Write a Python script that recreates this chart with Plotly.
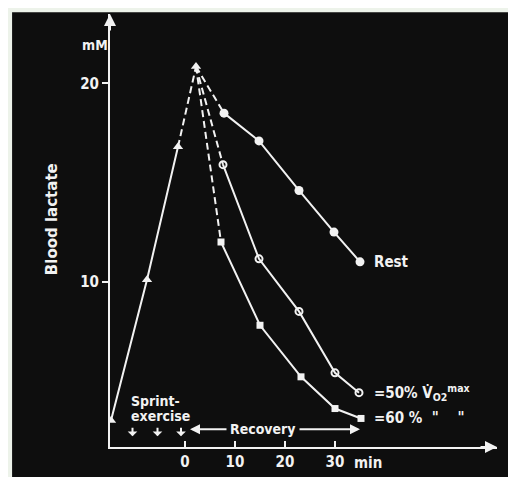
import plotly.graph_objects as go

# ---- data ----
exercise_t = [-14.8, -7.6, -1.4, 2.2]
exercise_mM = [3.0, 10.1, 16.8, 20.85]

rest_t = [7.8, 14.8, 22.8, 29.8, 35.0]
rest_mM = [18.5, 17.1, 14.6, 12.5, 11.0]

pct50_t = [7.6, 14.8, 22.8, 30.0, 34.8]
pct50_mM = [15.9, 11.15, 8.5, 5.4, 4.4]

pct60_t = [7.2, 15.0, 23.2, 30.0, 35.2]
pct60_mM = [12.0, 7.8, 5.2, 3.6, 3.1]

sprint_times = [-10.5, -5.5, -0.8]
x_ticks = [0, 10, 20, 30]
y_ticks = [10, 20]

FG = "#f2f2f2"
BG = "#0e0e0e"
FONT = "DejaVu Sans Condensed, Liberation Sans Narrow, DejaVu Sans, sans-serif"
WIDE = "DejaVu Sans, Verdana, sans-serif"

fig = go.Figure()

line = dict(color=FG, width=2)
dline = dict(color=FG, width=2, dash="7px,4px")

# sprint exercise rise
fig.add_trace(go.Scatter(x=exercise_t[:3], y=exercise_mM[:3], mode="lines+markers",
                         line=line, marker=dict(symbol="triangle-up", size=9, color=FG)))
fig.add_trace(go.Scatter(x=exercise_t[2:], y=exercise_mM[2:], mode="lines",
                         line=dline))
fig.add_trace(go.Scatter(x=exercise_t[3:], y=exercise_mM[3:], mode="markers",
                         marker=dict(symbol="triangle-up", size=9, color=FG)))

series = [
    (rest_t, rest_mM, dict(symbol="circle", size=9, color=FG)),
    (pct50_t, pct50_mM, dict(symbol="circle-open", size=7, color=FG, line=dict(width=2, color=FG))),
    (pct60_t, pct60_mM, dict(symbol="square", size=7, color=FG)),
]
for t, v, mk in series:
    fig.add_trace(go.Scatter(x=[exercise_t[-1], t[0]], y=[exercise_mM[-1], v[0]],
                             mode="lines", line=dline))
    fig.add_trace(go.Scatter(x=t, y=v, mode="lines+markers", line=line, marker=mk))

tf = dict(family=FONT, size=15, color=FG)
tf14 = dict(family=FONT, size=14, color=FG)

annotations = [
    # axis arrowheads
    dict(x=-15, y=23.5, ax=0, ay=18, showarrow=True, arrowhead=2, arrowsize=1.2,
         arrowwidth=2, arrowcolor=FG, text=""),
    dict(x=62.4, y=1.66, ax=-18, ay=0, showarrow=True, arrowhead=2, arrowsize=1.2,
         arrowwidth=2, arrowcolor=FG, text=""),
    dict(x=-0.039, y=0.929, xref="paper", yref="paper", xanchor="center", yanchor="middle",
         text="<b>mM</b>", showarrow=False, font=tf14),
    dict(x=-0.15, y=0.526, xref="paper", yref="paper", xanchor="center", yanchor="middle",
         text="<b>Blood lactate</b>", textangle=-90, showarrow=False,
         font=dict(family=WIDE, size=15, color=FG)),
    dict(x=36.6, y=-0.012, yref="paper", text="<b>min</b>", showarrow=False, font=tf,
         yanchor="top"),
    dict(x=-11.3, y=4.0, text="<b>Sprint-</b>", showarrow=False, font=tf14, xanchor="left"),
    dict(x=-11.3, y=3.2, text="<b>exercise</b>", showarrow=False, font=tf14, xanchor="left"),
    dict(x=15.6, y=2.55, text="<b>Recovery</b>", showarrow=False, font=tf14),
    dict(x=1.0, y=2.55, ax=8.6, ay=2.55, axref="x", ayref="y", showarrow=True,
         arrowhead=2, arrowwidth=2, arrowcolor=FG, text=""),
    dict(x=35.0, y=2.55, ax=22.6, ay=2.55, axref="x", ayref="y", showarrow=True,
         arrowhead=2, arrowwidth=2, arrowcolor=FG, text=""),
    dict(x=37.3, y=rest_mM[-1], text="<b>Rest</b>", xanchor="left", showarrow=False, font=tf),
    dict(x=37.3, y=pct50_mM[-1], text="<b>=50% V\u0307<sub>O2</sub><sup>max</sup></b>",
         xanchor="left", showarrow=False, font=tf),
    dict(x=37.3, y=pct60_mM[-1], text="<b>=60 %  \"    \"</b>", xanchor="left",
         showarrow=False, font=tf),
]
for s in sprint_times:
    annotations.append(dict(x=s, y=2.2, ax=0, ay=-10, showarrow=True, arrowhead=1,
                            arrowsize=0.8, arrowwidth=2, arrowcolor=FG, text=""))

shapes = [
    dict(type="rect", xref="paper", yref="paper", x0=-0.253, x1=1.2, y0=-0.3, y1=1.004,
         fillcolor=BG, line=dict(width=0), layer="below"),
    dict(type="line", xref="x", yref="y", x0=-17, x1=-15, y0=1.66, y1=1.66,
         line=dict(color=FG, width=2)),
]

# the page places the figure 8px in from the top-left corner of the window
fig.update_layout(
    width=508, height=469,
    margin=dict(l=102, r=19, t=6, b=28),
    paper_bgcolor="#edf3ea",
    plot_bgcolor=BG,
    showlegend=False,
    annotations=annotations,
    shapes=shapes,
    font=dict(family=FONT, color=FG),
    xaxis=dict(range=[-15, 62.4], tickvals=x_ticks, ticks="inside", ticklen=6,
               tickwidth=2, tickcolor=FG, showline=True, linecolor=FG, linewidth=2,
               showgrid=False, zeroline=False,
               tickfont=dict(family=FONT, size=15, color=FG),
               ticktext=[f"<b>{v}</b>" for v in x_ticks]),
    yaxis=dict(range=[1.66, 23.5], tickvals=y_ticks, ticks="outside", ticklen=6,
               tickwidth=2, tickcolor=FG, showline=True, linecolor=FG, linewidth=2,
               showgrid=False, zeroline=False,
               tickfont=dict(family=FONT, size=15, color=FG),
               ticktext=[f"<b>{v}</b>" for v in y_ticks]),
)

fig.write_html("out.html")
